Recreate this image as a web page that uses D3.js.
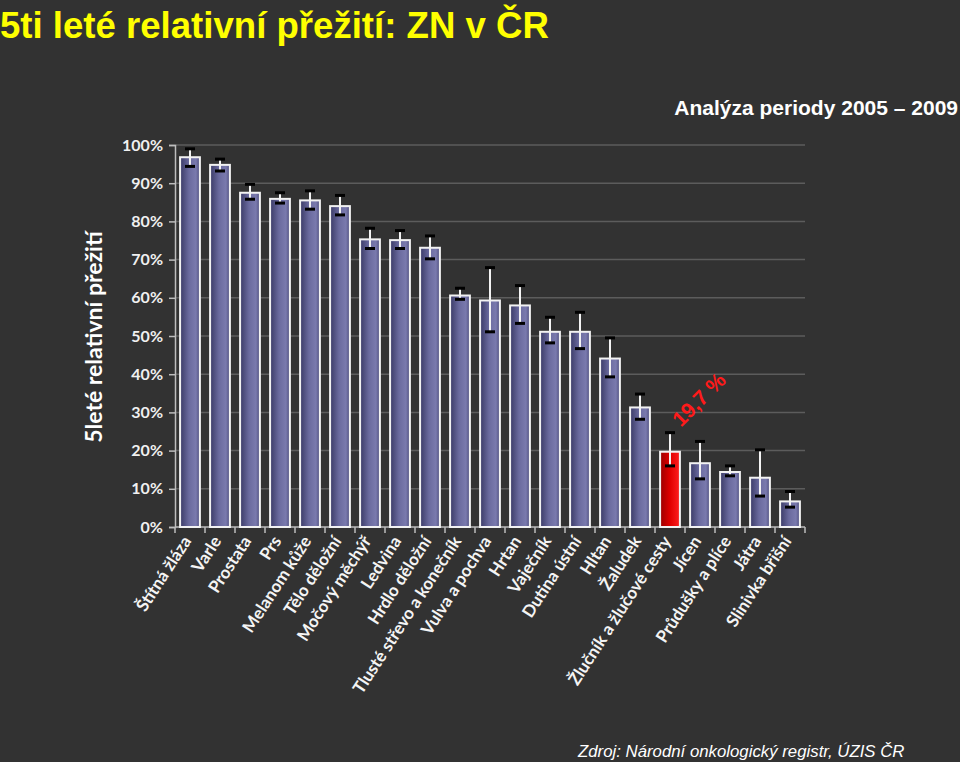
<!DOCTYPE html>
<html><head><meta charset="utf-8">
<script src="https://cdn.jsdelivr.net/npm/d3@7"></script>
<style>
html,body{margin:0;padding:0;background:#323232;}
svg{display:block;}
</style></head>
<body>
<script>
const categories = ["Štítná žláza","Varle","Prostata","Prs","Melanom kůže","Tělo děložní","Močový měchýř","Ledvina","Hrdlo děložní","Tlusté střevo a konečník","Vulva a pochva","Hrtan","Vaječník","Dutina ústní","Hltan","Žaludek","Žlučník a žlučové cesty","Jícen","Průdušky a plíce","Játra","Slinivka břišní"];
const values   = [96.8, 94.8, 87.5, 85.9, 85.5, 84.0, 75.3, 75.1, 73.1, 60.6, 59.3, 58.0, 51.1, 51.1, 44.1, 31.3, 19.7, 16.7, 14.4, 12.9, 6.7];
const ciLow    = [94.4, 93.2, 85.8, 84.8, 83.2, 81.7, 72.9, 72.9, 70.2, 59.6, 51.1, 53.3, 48.2, 46.7, 39.3, 28.2, 16.0, 12.6, 13.4, 8.1, 5.2];
const ciHigh   = [99.0, 96.3, 89.7, 87.5, 88.0, 86.8, 78.2, 77.6, 76.2, 62.5, 67.9, 63.2, 54.9, 56.2, 49.5, 34.8, 24.7, 22.4, 16.0, 20.2, 9.3];
const highlight = "Žlučník a žlučové cesty";
const yTicks = [0,10,20,30,40,50,60,70,80,90,100];

const W = 960, H = 762;
const svg = d3.select("body").append("svg").attr("width", W).attr("height", H);
svg.append("rect").attr("width", W).attr("height", H).attr("fill", "#323232");

const defs = svg.append("defs");
const gB = defs.append("linearGradient").attr("id","gBlue").attr("x1","0").attr("x2","1").attr("y1","0").attr("y2","0");
[["0%","#3a3a66"],["45%","#6a6a9e"],["80%","#7a7aae"],["100%","#4c4c7c"]].forEach(s=>gB.append("stop").attr("offset",s[0]).attr("stop-color",s[1]));
const gR = defs.append("linearGradient").attr("id","gRed").attr("x1","0").attr("x2","1").attr("y1","0").attr("y2","0");
[["0%","#9a0000"],["50%","#e00000"],["100%","#ff2020"]].forEach(s=>gR.append("stop").attr("offset",s[0]).attr("stop-color",s[1]));

const x0 = 175, x1 = 805, yTop = 145, yBot = 527;
const x = d3.scaleBand().domain(categories).range([x0, x1]).paddingInner(0.34).paddingOuter(0.17);
const y = d3.scaleLinear().domain([0, 100]).range([yBot, yTop]);

// gridlines
svg.append("g").selectAll("line").data(yTicks.filter(t=>t>0)).join("line")
  .attr("x1", x0).attr("x2", x1).attr("y1", d=>y(d)).attr("y2", d=>y(d))
  .attr("stroke", "#5c5c5c").attr("stroke-width", 1.5);

// y axis
const yAxis = svg.append("g").attr("transform", `translate(${x0},0)`)
  .call(d3.axisLeft(y).tickValues(yTicks).tickFormat(d=>d+"%").tickSize(6).tickPadding(6));
yAxis.select(".domain").attr("stroke", "#bdbdbd").attr("stroke-width", 1.5);
yAxis.selectAll(".tick line").attr("stroke", "#bdbdbd").attr("stroke-width", 1.5);
yAxis.selectAll("text").attr("fill", "#f0f0f0").style("font-family", "Lato, 'Open Sans', sans-serif")
  .style("font-size", "16px").style("font-weight", "700");

// x axis
const xAxis = svg.append("g").attr("transform", `translate(0,${yBot})`);
xAxis.append("line").attr("x1", x0).attr("x2", x1).attr("stroke", "#bdbdbd").attr("stroke-width", 1.5);
const step = x.step();
xAxis.selectAll("line.t").data(d3.range(categories.length + 1)).join("line").attr("class","t")
  .attr("x1", i => x0 + i*step).attr("x2", i => x0 + i*step).attr("y1", 0).attr("y2", 6)
  .attr("stroke", "#bdbdbd").attr("stroke-width", 1.5);
xAxis.selectAll("text").data(categories).join("text")
  .attr("transform", d => `translate(${x(d) + x.bandwidth()/2 + 2},${14}) rotate(-57)`)
  .attr("text-anchor", "end")
  .attr("fill", "#f4f4f4")
  .style("font-family", "Lato, 'Open Sans', sans-serif").style("font-size", "17px").style("font-weight", "700")
  .text(d => d);

// bars
svg.append("g").selectAll("rect").data(categories).join("rect")
  .attr("x", d => x(d)).attr("width", x.bandwidth())
  .attr("y", (d,i) => y(values[i])).attr("height", (d,i) => yBot - y(values[i]))
  .attr("fill", d => d === highlight ? "url(#gRed)" : "url(#gBlue)")
  .attr("stroke", "#f2f2f2").attr("stroke-width", 2);

// error bars
const eb = svg.append("g");
categories.forEach((d,i) => {
  const cx = x(d) + x.bandwidth()/2;
  eb.append("line").attr("x1", cx).attr("x2", cx).attr("y1", y(ciLow[i])).attr("y2", y(ciHigh[i]))
    .attr("stroke", "#f4f4f4").attr("stroke-width", 2);
  [ciLow[i], ciHigh[i]].forEach(v => {
    eb.append("line").attr("x1", cx-5).attr("x2", cx+5).attr("y1", y(v)).attr("y2", y(v))
      .attr("stroke", "#000").attr("stroke-width", 3);
  });
});

// title
svg.append("text").attr("x", 0).attr("y", 38).attr("fill", "#ffff00")
  .style("font-family", "'Liberation Sans', Arial, sans-serif").style("font-size", "36.6px").style("font-weight", "700")
  .text("5ti leté relativní přežití: ZN v ČR");

svg.append("text").attr("x", 958).attr("y", 115).attr("text-anchor", "end").attr("fill", "#ffffff")
  .style("font-family", "'Liberation Sans', Arial, sans-serif").style("font-size", "21px").style("font-weight", "700")
  .text("Analýza periody 2005 – 2009");

// y title
svg.append("text").attr("transform", "translate(102,337) rotate(-90)").attr("text-anchor", "middle")
  .attr("fill", "#ffffff").style("font-family", "Lato, 'Open Sans', sans-serif").style("font-size", "23px").style("font-weight", "700")
  .text("5leté relativní přežití");

// annotation
const hi = categories.indexOf(highlight);
svg.append("text")
  .attr("transform", `translate(${x(highlight) + x.bandwidth() + 1},${y(values[hi]) - 24}) rotate(-45)`)
  .attr("fill", "#ff1a1a").style("font-family", "'Liberation Sans', Arial, sans-serif")
  .style("font-size", "21px").style("font-weight", "700")
  .text(String(values[hi]).replace(".", ",") + " %");

// source
svg.append("text").attr("x", 578).attr("y", 757).attr("fill", "#ffffff")
  .style("font-family", "'Liberation Sans', Arial, sans-serif").style("font-size", "16.8px").style("font-style", "italic")
  .text("Zdroj: Národní onkologický registr, ÚZIS ČR");
</script>
</body></html>
